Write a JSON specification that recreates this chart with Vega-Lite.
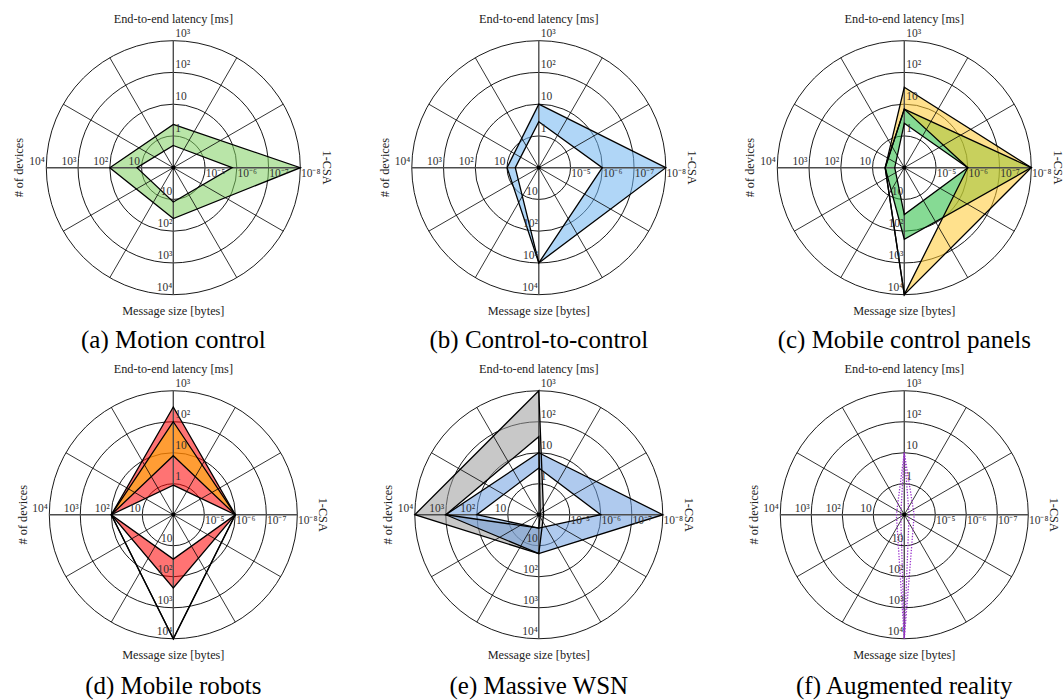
{
"$schema":"https://vega.github.io/schema/vega-lite/v6.json",
"padding":{"left":8.2,"top":8.95,"right":0,"bottom":0},
"bounds":"flush",
"columns":3,
"spacing":{"row":37.8,"column":34.5},
"config":{"font":"Liberation Serif","view":{"stroke":null},"title":{"orient":"bottom","fontSize":25,"fontWeight":"normal","font":"Liberation Serif","color":"black","anchor":"middle","frame":"group"}},
"data":{"values":[
{"kind":"ring","l":1},{"kind":"ring","l":2},{"kind":"ring","l":3},{"kind":"ring","l":4},
{"kind":"spoke","g":0},{"kind":"spoke","g":30},{"kind":"spoke","g":60},{"kind":"spoke","g":90},{"kind":"spoke","g":120},{"kind":"spoke","g":150},
{"kind":"dot"},
{"kind":"tick","ax":"lat","l":1,"txt":"1"},{"kind":"tick","ax":"lat","l":2,"txt":"10"},{"kind":"tick","ax":"lat","l":3,"txt":"10²"},{"kind":"tick","ax":"lat","l":4,"txt":"10³"},
{"kind":"tick","ax":"csa","l":1,"txt":"10⁻⁵"},{"kind":"tick","ax":"csa","l":2,"txt":"10⁻⁶"},{"kind":"tick","ax":"csa","l":3,"txt":"10⁻⁷"},{"kind":"tick","ax":"csa","l":4,"txt":"10⁻⁸"},
{"kind":"tick","ax":"msg","l":1,"txt":"10"},{"kind":"tick","ax":"msg","l":2,"txt":"10²"},{"kind":"tick","ax":"msg","l":3,"txt":"10³"},{"kind":"tick","ax":"msg","l":4,"txt":"10⁴"},
{"kind":"tick","ax":"dev","l":1,"txt":"10"},{"kind":"tick","ax":"dev","l":2,"txt":"10²"},{"kind":"tick","ax":"dev","l":3,"txt":"10³"},{"kind":"tick","ax":"dev","l":4,"txt":"10⁴"},
{"kind":"title","ax":"lat","txt":"End-to-end latency [ms]"},{"kind":"title","ax":"csa","txt":"1-CSA"},{"kind":"title","ax":"msg","txt":"Message size [bytes]"},{"kind":"title","ax":"dev","txt":"# of devices"},
{"kind":"ser","p":"a","s":"a1","ax":"lat","hi":2.3,"lo":0.5},
{"kind":"ser","p":"a","s":"a1","ax":"csa","hi":1e-8,"lo":1.4e-6},
{"kind":"ser","p":"a","s":"a1","ax":"msg","hi":40,"lo":12},
{"kind":"ser","p":"a","s":"a1","ax":"dev","hi":100,"lo":14},
{"kind":"ser","p":"b","s":"b1","ax":"lat","hi":10,"lo":2.8},
{"kind":"ser","p":"b","s":"b1","ax":"csa","hi":1e-8,"lo":1e-6},
{"kind":"ser","p":"b","s":"b1","ax":"msg","hi":1000,"lo":1000},
{"kind":"ser","p":"b","s":"b1","ax":"dev","hi":10,"lo":5.5},
{"kind":"ser","p":"c","s":"c1","ax":"lat","hi":7,"lo":2.5},
{"kind":"ser","p":"c","s":"c1","ax":"csa","hi":1e-8,"lo":1e-6},
{"kind":"ser","p":"c","s":"c1","ax":"msg","hi":180,"lo":30},
{"kind":"ser","p":"c","s":"c1","ax":"dev","hi":4,"lo":2},
{"kind":"ser","p":"c","s":"c2","ax":"lat","hi":34,"lo":7},
{"kind":"ser","p":"c","s":"c2","ax":"csa","hi":1e-8,"lo":1e-6},
{"kind":"ser","p":"c","s":"c2","ax":"msg","hi":10000,"lo":10000},
{"kind":"ser","p":"c","s":"c2","ax":"dev","hi":4,"lo":4},
{"kind":"ser","p":"d","s":"d1","ax":"lat","hi":300,"lo":0.9},
{"kind":"ser","p":"d","s":"d1","ax":"csa","hi":1e-6,"lo":1e-6},
{"kind":"ser","p":"d","s":"d1","ax":"msg","hi":230,"lo":27},
{"kind":"ser","p":"d","s":"d1","ax":"dev","hi":100,"lo":100},
{"kind":"ser","p":"d","s":"d2","ax":"lat","hi":100,"lo":8},
{"kind":"ser","p":"d","s":"d2","ax":"csa","hi":1e-6,"lo":1e-6},
{"kind":"ser","p":"d","s":"d2","ax":"msg","hi":10000,"lo":10000},
{"kind":"ser","p":"d","s":"d2","ax":"dev","hi":100,"lo":100},
{"kind":"ser","p":"e","s":"e1","ax":"lat","hi":1000,"lo":33},
{"kind":"ser","p":"e","s":"e1","ax":"csa","hi":7e-5,"lo":9e-5},
{"kind":"ser","p":"e","s":"e1","ax":"msg","hi":18,"lo":2.7},
{"kind":"ser","p":"e","s":"e1","ax":"dev","hi":10000,"lo":1000},
{"kind":"ser","p":"e","s":"e2","ax":"lat","hi":10,"lo":3.2},
{"kind":"ser","p":"e","s":"e2","ax":"csa","hi":1e-8,"lo":1e-6},
{"kind":"ser","p":"e","s":"e2","ax":"msg","hi":18,"lo":2.7},
{"kind":"ser","p":"e","s":"e2","ax":"dev","hi":1000,"lo":100},
{"kind":"ser","p":"f","s":"f1","ax":"lat","hi":10,"lo":10},
{"kind":"ser","p":"f","s":"f1","ax":"csa","hi":4.8e-5,"lo":7e-5},
{"kind":"ser","p":"f","s":"f1","ax":"msg","hi":10000,"lo":10000},
{"kind":"ser","p":"f","s":"f1","ax":"dev","hi":1.8,"lo":1.3}
]},
"transform":[
{"fold":["hi","lo"],"as":["b","v"]},
{"filter":"datum.kind=='ser'||datum.b=='hi'"},
{"calculate":"datum.kind!='ser'?0:datum.ax=='lat'?log(datum.v)/LN10+1:datum.ax=='csa'?-log(datum.v)/LN10-4:log(datum.v)/LN10","as":"r"},
{"calculate":"datum.kind=='ser'?(datum.ax=='csa'?datum.r:datum.ax=='dev'?-datum.r:0):datum.kind=='spoke'?4*cos(datum.g*PI/180):datum.kind=='tick'?(datum.ax=='lat'?0.06:datum.ax=='csa'?datum.l+0.02:datum.ax=='msg'?-0.03:-datum.l-0.05):datum.kind=='title'?(datum.ax=='csa'?4.84:datum.ax=='dev'?-4.85:0):0","as":"x"},
{"calculate":"datum.kind=='ser'?(datum.ax=='lat'?datum.r:datum.ax=='msg'?-datum.r:0):datum.kind=='spoke'?4*sin(datum.g*PI/180):datum.kind=='tick'?(datum.ax=='lat'?datum.l+0.22:datum.ax=='csa'?-0.2:datum.ax=='msg'?0.22-datum.l:0.17):datum.kind=='title'?(datum.ax=='lat'?4.69:datum.ax=='msg'?-4.52:0):0","as":"y"},
{"calculate":"-datum.x","as":"x2"},
{"calculate":"-datum.y","as":"y2"},
{"calculate":"indexof(['lat','csa','msg','dev'],datum.ax)","as":"k"},
{"calculate":"datum.b=='hi'?datum.k:7-datum.k","as":"o"},
{"calculate":"datum.b=='hi'?(datum.ax=='dev'?0:1):(datum.ax=='lat'?2:3)","as":"o2"},
{"calculate":"datum.ax=='csa'?90:datum.ax=='dev'?270:0","as":"ang"}
],
"resolve":{"scale":{"size":"independent"}},
"concat":[
{"width":330.2,"height":312.7,"title":{"text":"(a) Motion control","offset":6.6},
"encoding":{"x":{"field":"x","type":"quantitative","scale":{"domain":[-5.2,5.2],"nice":false,"zero":false},"axis":null},"y":{"field":"y","type":"quantitative","scale":{"domain":[-4.85,5],"nice":false,"zero":false},"axis":null}},
"layer":[
{"transform":[{"filter":"datum.kind=='ring'"}],"mark":{"type":"point","shape":"circle","filled":false,"color":"black","strokeWidth":0.9,"opacity":1},"encoding":{"size":{"field":"l","type":"quantitative","scale":{"type":"pow","exponent":2,"domain":[0,4],"range":[0,64516]},"legend":null}}},
{"transform":[{"filter":"datum.p=='a'"}],"mark":{"type":"line","interpolate":"linear-closed","filled":true,"fillOpacity":0.55,"strokeWidth":0,"strokeOpacity":0},"encoding":{"color":{"field":"s","type":"nominal","scale":{"domain":["a1","b1","c1","c2","d1","d2","e1","e2","f1"],"range":["#80d060","#70b4f0","#22bb3c","#ffc830","#ff0000","#ffc000","#9a9a9a","#6e9ee0","#9932cc"]},"legend":null},"order":{"field":"o","type":"quantitative"}}},
{"transform":[{"filter":"datum.p=='a'&&(datum.ax=='lat'||datum.ax=='dev')"}],"mark":{"type":"line","interpolate":"linear-closed","filled":true,"fillOpacity":0.55,"strokeWidth":0,"strokeOpacity":0},"encoding":{"color":{"field":"s","type":"nominal","scale":{"domain":["a1","b1","c1","c2","d1","d2","e1","e2","f1"],"range":["#80d060","#70b4f0","#22bb3c","#ffc830","#ff0000","#ffc000","#9a9a9a","#6e9ee0","#9932cc"]},"legend":null},"order":{"field":"o2","type":"quantitative"}}},
{"transform":[{"filter":"datum.kind=='spoke'&&datum.g%90!=0"}],"mark":{"type":"rule","color":"black","strokeWidth":0.8},"encoding":{"x2":{"field":"x2"},"y2":{"field":"y2"}}},
{"transform":[{"filter":"datum.kind=='spoke'&&datum.g%90==0"}],"mark":{"type":"rule","color":"#4d4d4d","strokeWidth":1.4},"encoding":{"x2":{"field":"x2"},"y2":{"field":"y2"}}},
{"transform":[{"filter":"datum.p=='a'"}],"mark":{"type":"line","interpolate":"linear-closed","color":"black","strokeWidth":1.3},"encoding":{"detail":[{"field":"s","type":"nominal"},{"field":"b","type":"nominal"}],"order":{"field":"k","type":"quantitative"}}},
{"transform":[{"filter":"datum.kind=='tick'&&(datum.ax=='lat'||datum.ax=='csa')"}],"mark":{"type":"text","align":"left","baseline":"middle","fontSize":11.5,"color":"#333"},"encoding":{"text":{"field":"txt","type":"nominal"}}},
{"transform":[{"filter":"datum.kind=='tick'&&(datum.ax=='msg'||datum.ax=='dev')"}],"mark":{"type":"text","align":"right","baseline":"middle","fontSize":11.5,"color":"#333"},"encoding":{"text":{"field":"txt","type":"nominal"}}},
{"transform":[{"filter":"datum.kind=='title'"}],"mark":{"type":"text","fontSize":12.3,"color":"#222"},"encoding":{"text":{"field":"txt","type":"nominal"},"angle":{"field":"ang","type":"quantitative","scale":null}}},
{"transform":[{"filter":"datum.kind=='dot'"}],"mark":{"type":"point","shape":"circle","filled":true,"color":"black","size":18,"opacity":1}}
]},
{"width":330.2,"height":312.7,"title":{"text":"(b) Control-to-control","offset":6.6},
"encoding":{"x":{"field":"x","type":"quantitative","scale":{"domain":[-5.2,5.2],"nice":false,"zero":false},"axis":null},"y":{"field":"y","type":"quantitative","scale":{"domain":[-4.85,5],"nice":false,"zero":false},"axis":null}},
"layer":[
{"transform":[{"filter":"datum.kind=='ring'"}],"mark":{"type":"point","shape":"circle","filled":false,"color":"black","strokeWidth":0.9,"opacity":1},"encoding":{"size":{"field":"l","type":"quantitative","scale":{"type":"pow","exponent":2,"domain":[0,4],"range":[0,64516]},"legend":null}}},
{"transform":[{"filter":"datum.p=='b'"}],"mark":{"type":"line","interpolate":"linear-closed","filled":true,"fillOpacity":0.55,"strokeWidth":0,"strokeOpacity":0},"encoding":{"color":{"field":"s","type":"nominal","scale":{"domain":["a1","b1","c1","c2","d1","d2","e1","e2","f1"],"range":["#80d060","#70b4f0","#22bb3c","#ffc830","#ff0000","#ffc000","#9a9a9a","#6e9ee0","#9932cc"]},"legend":null},"order":{"field":"o","type":"quantitative"}}},
{"transform":[{"filter":"datum.p=='b'&&(datum.ax=='lat'||datum.ax=='dev')"}],"mark":{"type":"line","interpolate":"linear-closed","filled":true,"fillOpacity":0.55,"strokeWidth":0,"strokeOpacity":0},"encoding":{"color":{"field":"s","type":"nominal","scale":{"domain":["a1","b1","c1","c2","d1","d2","e1","e2","f1"],"range":["#80d060","#70b4f0","#22bb3c","#ffc830","#ff0000","#ffc000","#9a9a9a","#6e9ee0","#9932cc"]},"legend":null},"order":{"field":"o2","type":"quantitative"}}},
{"transform":[{"filter":"datum.kind=='spoke'&&datum.g%90!=0"}],"mark":{"type":"rule","color":"black","strokeWidth":0.8},"encoding":{"x2":{"field":"x2"},"y2":{"field":"y2"}}},
{"transform":[{"filter":"datum.kind=='spoke'&&datum.g%90==0"}],"mark":{"type":"rule","color":"#4d4d4d","strokeWidth":1.4},"encoding":{"x2":{"field":"x2"},"y2":{"field":"y2"}}},
{"transform":[{"filter":"datum.p=='b'"}],"mark":{"type":"line","interpolate":"linear-closed","color":"black","strokeWidth":1.3},"encoding":{"detail":[{"field":"s","type":"nominal"},{"field":"b","type":"nominal"}],"order":{"field":"k","type":"quantitative"}}},
{"transform":[{"filter":"datum.kind=='tick'&&(datum.ax=='lat'||datum.ax=='csa')"}],"mark":{"type":"text","align":"left","baseline":"middle","fontSize":11.5,"color":"#333"},"encoding":{"text":{"field":"txt","type":"nominal"}}},
{"transform":[{"filter":"datum.kind=='tick'&&(datum.ax=='msg'||datum.ax=='dev')"}],"mark":{"type":"text","align":"right","baseline":"middle","fontSize":11.5,"color":"#333"},"encoding":{"text":{"field":"txt","type":"nominal"}}},
{"transform":[{"filter":"datum.kind=='title'"}],"mark":{"type":"text","fontSize":12.3,"color":"#222"},"encoding":{"text":{"field":"txt","type":"nominal"},"angle":{"field":"ang","type":"quantitative","scale":null}}},
{"transform":[{"filter":"datum.kind=='dot'"}],"mark":{"type":"point","shape":"circle","filled":true,"color":"black","size":18,"opacity":1}}
]},
{"width":330.2,"height":312.7,"title":{"text":"(c) Mobile control panels","offset":6.6},
"encoding":{"x":{"field":"x","type":"quantitative","scale":{"domain":[-5.2,5.2],"nice":false,"zero":false},"axis":null},"y":{"field":"y","type":"quantitative","scale":{"domain":[-4.85,5],"nice":false,"zero":false},"axis":null}},
"layer":[
{"transform":[{"filter":"datum.kind=='ring'"}],"mark":{"type":"point","shape":"circle","filled":false,"color":"black","strokeWidth":0.9,"opacity":1},"encoding":{"size":{"field":"l","type":"quantitative","scale":{"type":"pow","exponent":2,"domain":[0,4],"range":[0,64516]},"legend":null}}},
{"transform":[{"filter":"datum.p=='c'"}],"mark":{"type":"line","interpolate":"linear-closed","filled":true,"fillOpacity":0.55,"strokeWidth":0,"strokeOpacity":0},"encoding":{"color":{"field":"s","type":"nominal","scale":{"domain":["a1","b1","c1","c2","d1","d2","e1","e2","f1"],"range":["#80d060","#70b4f0","#22bb3c","#ffc830","#ff0000","#ffc000","#9a9a9a","#6e9ee0","#9932cc"]},"legend":null},"order":{"field":"o","type":"quantitative"}}},
{"transform":[{"filter":"datum.p=='c'&&(datum.ax=='lat'||datum.ax=='dev')"}],"mark":{"type":"line","interpolate":"linear-closed","filled":true,"fillOpacity":0.55,"strokeWidth":0,"strokeOpacity":0},"encoding":{"color":{"field":"s","type":"nominal","scale":{"domain":["a1","b1","c1","c2","d1","d2","e1","e2","f1"],"range":["#80d060","#70b4f0","#22bb3c","#ffc830","#ff0000","#ffc000","#9a9a9a","#6e9ee0","#9932cc"]},"legend":null},"order":{"field":"o2","type":"quantitative"}}},
{"transform":[{"filter":"datum.kind=='spoke'&&datum.g%90!=0"}],"mark":{"type":"rule","color":"black","strokeWidth":0.8},"encoding":{"x2":{"field":"x2"},"y2":{"field":"y2"}}},
{"transform":[{"filter":"datum.kind=='spoke'&&datum.g%90==0"}],"mark":{"type":"rule","color":"#4d4d4d","strokeWidth":1.4},"encoding":{"x2":{"field":"x2"},"y2":{"field":"y2"}}},
{"transform":[{"filter":"datum.p=='c'"}],"mark":{"type":"line","interpolate":"linear-closed","color":"black","strokeWidth":1.3},"encoding":{"detail":[{"field":"s","type":"nominal"},{"field":"b","type":"nominal"}],"order":{"field":"k","type":"quantitative"}}},
{"transform":[{"filter":"datum.kind=='tick'&&(datum.ax=='lat'||datum.ax=='csa')"}],"mark":{"type":"text","align":"left","baseline":"middle","fontSize":11.5,"color":"#333"},"encoding":{"text":{"field":"txt","type":"nominal"}}},
{"transform":[{"filter":"datum.kind=='tick'&&(datum.ax=='msg'||datum.ax=='dev')"}],"mark":{"type":"text","align":"right","baseline":"middle","fontSize":11.5,"color":"#333"},"encoding":{"text":{"field":"txt","type":"nominal"}}},
{"transform":[{"filter":"datum.kind=='title'"}],"mark":{"type":"text","fontSize":12.3,"color":"#222"},"encoding":{"text":{"field":"txt","type":"nominal"},"angle":{"field":"ang","type":"quantitative","scale":null}}},
{"transform":[{"filter":"datum.kind=='dot'"}],"mark":{"type":"point","shape":"circle","filled":true,"color":"black","size":18,"opacity":1}}
]},
{"width":330.2,"height":305.35,"title":{"text":"(d) Mobile robots","offset":8.95},
"encoding":{"x":{"field":"x","type":"quantitative","scale":{"domain":[-5.326,5.326],"nice":false,"zero":false},"axis":null},"y":{"field":"y","type":"quantitative","scale":{"domain":[-4.85,5],"nice":false,"zero":false},"axis":null}},
"layer":[
{"transform":[{"filter":"datum.kind=='ring'"}],"mark":{"type":"point","shape":"circle","filled":false,"color":"black","strokeWidth":0.9,"opacity":1},"encoding":{"size":{"field":"l","type":"quantitative","scale":{"type":"pow","exponent":2,"domain":[0,4],"range":[0,61504]},"legend":null}}},
{"transform":[{"filter":"datum.p=='d'"}],"mark":{"type":"line","interpolate":"linear-closed","filled":true,"fillOpacity":0.55,"strokeWidth":0,"strokeOpacity":0},"encoding":{"color":{"field":"s","type":"nominal","scale":{"domain":["a1","b1","c1","c2","d1","d2","e1","e2","f1"],"range":["#80d060","#70b4f0","#22bb3c","#ffc830","#ff0000","#ffc000","#9a9a9a","#6e9ee0","#9932cc"]},"legend":null},"order":{"field":"o","type":"quantitative"}}},
{"transform":[{"filter":"datum.p=='d'&&(datum.ax=='lat'||datum.ax=='dev')"}],"mark":{"type":"line","interpolate":"linear-closed","filled":true,"fillOpacity":0.55,"strokeWidth":0,"strokeOpacity":0},"encoding":{"color":{"field":"s","type":"nominal","scale":{"domain":["a1","b1","c1","c2","d1","d2","e1","e2","f1"],"range":["#80d060","#70b4f0","#22bb3c","#ffc830","#ff0000","#ffc000","#9a9a9a","#6e9ee0","#9932cc"]},"legend":null},"order":{"field":"o2","type":"quantitative"}}},
{"transform":[{"filter":"datum.kind=='spoke'&&datum.g%90!=0"}],"mark":{"type":"rule","color":"black","strokeWidth":0.8},"encoding":{"x2":{"field":"x2"},"y2":{"field":"y2"}}},
{"transform":[{"filter":"datum.kind=='spoke'&&datum.g%90==0"}],"mark":{"type":"rule","color":"#4d4d4d","strokeWidth":1.4},"encoding":{"x2":{"field":"x2"},"y2":{"field":"y2"}}},
{"transform":[{"filter":"datum.p=='d'"}],"mark":{"type":"line","interpolate":"linear-closed","color":"black","strokeWidth":1.3},"encoding":{"detail":[{"field":"s","type":"nominal"},{"field":"b","type":"nominal"}],"order":{"field":"k","type":"quantitative"}}},
{"transform":[{"filter":"datum.kind=='tick'&&(datum.ax=='lat'||datum.ax=='csa')"}],"mark":{"type":"text","align":"left","baseline":"middle","fontSize":11.5,"color":"#333"},"encoding":{"text":{"field":"txt","type":"nominal"}}},
{"transform":[{"filter":"datum.kind=='tick'&&(datum.ax=='msg'||datum.ax=='dev')"}],"mark":{"type":"text","align":"right","baseline":"middle","fontSize":11.5,"color":"#333"},"encoding":{"text":{"field":"txt","type":"nominal"}}},
{"transform":[{"filter":"datum.kind=='title'"}],"mark":{"type":"text","fontSize":12.3,"color":"#222"},"encoding":{"text":{"field":"txt","type":"nominal"},"angle":{"field":"ang","type":"quantitative","scale":null}}},
{"transform":[{"filter":"datum.kind=='dot'"}],"mark":{"type":"point","shape":"circle","filled":true,"color":"black","size":18,"opacity":1}}
]},
{"width":330.2,"height":305.35,"title":{"text":"(e) Massive WSN","offset":8.95},
"encoding":{"x":{"field":"x","type":"quantitative","scale":{"domain":[-5.326,5.326],"nice":false,"zero":false},"axis":null},"y":{"field":"y","type":"quantitative","scale":{"domain":[-4.85,5],"nice":false,"zero":false},"axis":null}},
"layer":[
{"transform":[{"filter":"datum.kind=='ring'"}],"mark":{"type":"point","shape":"circle","filled":false,"color":"black","strokeWidth":0.9,"opacity":1},"encoding":{"size":{"field":"l","type":"quantitative","scale":{"type":"pow","exponent":2,"domain":[0,4],"range":[0,61504]},"legend":null}}},
{"transform":[{"filter":"datum.p=='e'"}],"mark":{"type":"line","interpolate":"linear-closed","filled":true,"fillOpacity":0.55,"strokeWidth":0,"strokeOpacity":0},"encoding":{"color":{"field":"s","type":"nominal","scale":{"domain":["a1","b1","c1","c2","d1","d2","e1","e2","f1"],"range":["#80d060","#70b4f0","#22bb3c","#ffc830","#ff0000","#ffc000","#9a9a9a","#6e9ee0","#9932cc"]},"legend":null},"order":{"field":"o","type":"quantitative"}}},
{"transform":[{"filter":"datum.p=='e'&&(datum.ax=='lat'||datum.ax=='dev')"}],"mark":{"type":"line","interpolate":"linear-closed","filled":true,"fillOpacity":0.55,"strokeWidth":0,"strokeOpacity":0},"encoding":{"color":{"field":"s","type":"nominal","scale":{"domain":["a1","b1","c1","c2","d1","d2","e1","e2","f1"],"range":["#80d060","#70b4f0","#22bb3c","#ffc830","#ff0000","#ffc000","#9a9a9a","#6e9ee0","#9932cc"]},"legend":null},"order":{"field":"o2","type":"quantitative"}}},
{"transform":[{"filter":"datum.kind=='spoke'&&datum.g%90!=0"}],"mark":{"type":"rule","color":"black","strokeWidth":0.8},"encoding":{"x2":{"field":"x2"},"y2":{"field":"y2"}}},
{"transform":[{"filter":"datum.kind=='spoke'&&datum.g%90==0"}],"mark":{"type":"rule","color":"#4d4d4d","strokeWidth":1.4},"encoding":{"x2":{"field":"x2"},"y2":{"field":"y2"}}},
{"transform":[{"filter":"datum.p=='e'"}],"mark":{"type":"line","interpolate":"linear-closed","color":"black","strokeWidth":1.3},"encoding":{"detail":[{"field":"s","type":"nominal"},{"field":"b","type":"nominal"}],"order":{"field":"k","type":"quantitative"}}},
{"transform":[{"filter":"datum.kind=='tick'&&(datum.ax=='lat'||datum.ax=='csa')"}],"mark":{"type":"text","align":"left","baseline":"middle","fontSize":11.5,"color":"#333"},"encoding":{"text":{"field":"txt","type":"nominal"}}},
{"transform":[{"filter":"datum.kind=='tick'&&(datum.ax=='msg'||datum.ax=='dev')"}],"mark":{"type":"text","align":"right","baseline":"middle","fontSize":11.5,"color":"#333"},"encoding":{"text":{"field":"txt","type":"nominal"}}},
{"transform":[{"filter":"datum.kind=='title'"}],"mark":{"type":"text","fontSize":12.3,"color":"#222"},"encoding":{"text":{"field":"txt","type":"nominal"},"angle":{"field":"ang","type":"quantitative","scale":null}}},
{"transform":[{"filter":"datum.kind=='dot'"}],"mark":{"type":"point","shape":"circle","filled":true,"color":"black","size":18,"opacity":1}}
]},
{"width":330.2,"height":305.35,"title":{"text":"(f) Augmented reality","offset":8.95},
"encoding":{"x":{"field":"x","type":"quantitative","scale":{"domain":[-5.326,5.326],"nice":false,"zero":false},"axis":null},"y":{"field":"y","type":"quantitative","scale":{"domain":[-4.85,5],"nice":false,"zero":false},"axis":null}},
"layer":[
{"transform":[{"filter":"datum.kind=='ring'"}],"mark":{"type":"point","shape":"circle","filled":false,"color":"black","strokeWidth":0.9,"opacity":1},"encoding":{"size":{"field":"l","type":"quantitative","scale":{"type":"pow","exponent":2,"domain":[0,4],"range":[0,61504]},"legend":null}}},
{"transform":[{"filter":"datum.kind=='spoke'&&datum.g%90!=0"}],"mark":{"type":"rule","color":"black","strokeWidth":0.8},"encoding":{"x2":{"field":"x2"},"y2":{"field":"y2"}}},
{"transform":[{"filter":"datum.kind=='spoke'&&datum.g%90==0"}],"mark":{"type":"rule","color":"#4d4d4d","strokeWidth":1.4},"encoding":{"x2":{"field":"x2"},"y2":{"field":"y2"}}},
{"transform":[{"filter":"datum.p=='f'"}],"mark":{"type":"line","interpolate":"linear-closed","color":"#9932cc","strokeWidth":1.3,"strokeDash":[1.3,1.5]},"encoding":{"detail":[{"field":"s","type":"nominal"},{"field":"b","type":"nominal"}],"order":{"field":"k","type":"quantitative"}}},
{"transform":[{"filter":"datum.kind=='tick'&&(datum.ax=='lat'||datum.ax=='csa')"}],"mark":{"type":"text","align":"left","baseline":"middle","fontSize":11.5,"color":"#333"},"encoding":{"text":{"field":"txt","type":"nominal"}}},
{"transform":[{"filter":"datum.kind=='tick'&&(datum.ax=='msg'||datum.ax=='dev')"}],"mark":{"type":"text","align":"right","baseline":"middle","fontSize":11.5,"color":"#333"},"encoding":{"text":{"field":"txt","type":"nominal"}}},
{"transform":[{"filter":"datum.kind=='title'"}],"mark":{"type":"text","fontSize":12.3,"color":"#222"},"encoding":{"text":{"field":"txt","type":"nominal"},"angle":{"field":"ang","type":"quantitative","scale":null}}},
{"transform":[{"filter":"datum.kind=='dot'"}],"mark":{"type":"point","shape":"circle","filled":true,"color":"black","size":18,"opacity":1}}
]}
]
}
